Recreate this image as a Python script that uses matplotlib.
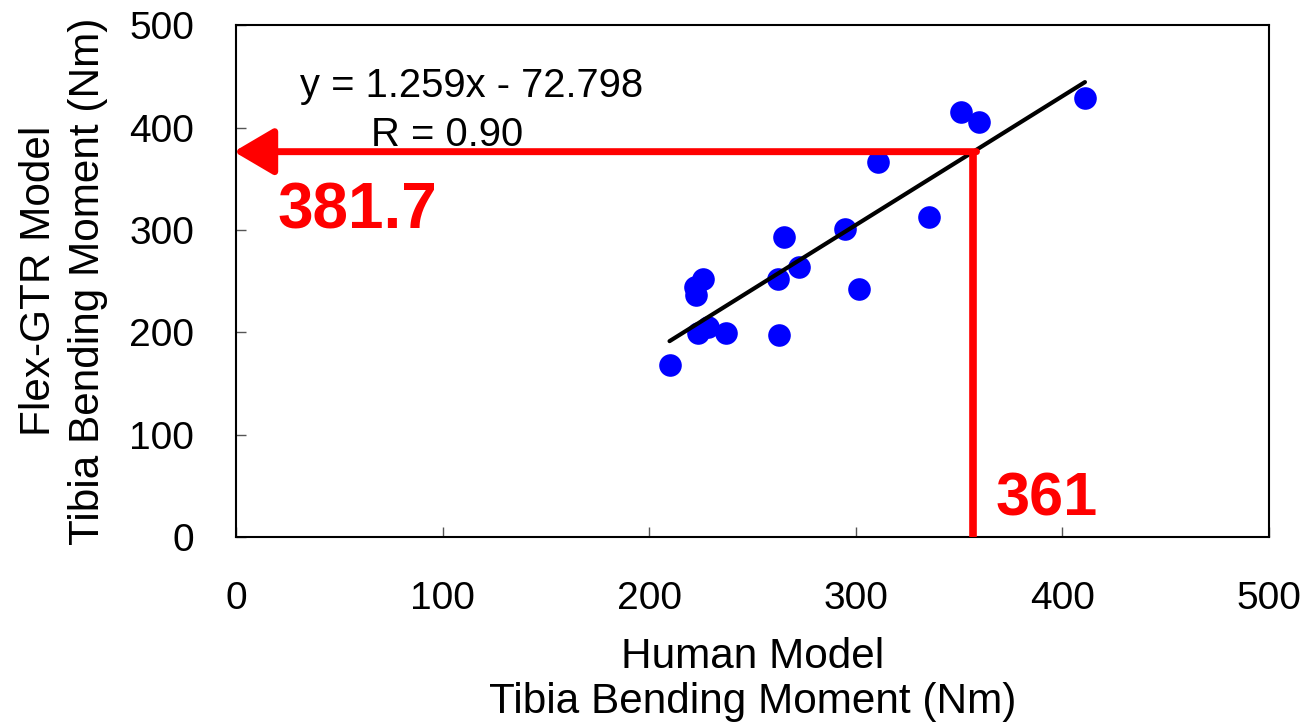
import numpy as np
import matplotlib
matplotlib.use("Agg")
import matplotlib.pyplot as plt

plt.rcParams['font.family'] = ['Liberation Sans', 'DejaVu Sans']

# datos
human = [209.9, 222.0, 222.5, 226.0, 223.6, 228.4, 237.0, 263.1, 262.3,
         265.1, 272.8, 295.0, 301.8, 310.7, 335.7, 351.0, 359.9, 411.0]
flex = [168.1, 244.1, 236.6, 251.9, 199.7, 205.6, 199.7, 197.5, 251.9,
        293.0, 263.6, 300.8, 242.4, 366.9, 312.5, 415.7, 406.0, 429.0]

slope = 1.259
intercept = -72.798
r_value = 0.90
x_mark = 357          # donde se dibujan las lineas rojas
label_x = "361"
label_y = "381.7"

ticks = [0, 100, 200, 300, 400, 500]

fig = plt.figure(figsize=(13, 7.26), dpi=100)
ax = fig.add_axes([0.1815, 0.2603, 0.7945, 0.7046])

ax.scatter(human, flex, s=265, color='#0000ff', zorder=3, linewidths=0)

xf = np.array([min(human), max(human)])
ax.plot(xf, slope * xf + intercept, color='black', lw=3, zorder=4,
        solid_capstyle='round')

# lineas rojas
y_mark = slope * x_mark + intercept
ax.plot([x_mark, x_mark], [0, y_mark], color='red', lw=5.5,
        solid_capstyle='butt', zorder=5, clip_on=False)
ax.annotate('', xy=(-1, y_mark), xytext=(x_mark + 1.5, y_mark),
            arrowprops=dict(arrowstyle='-|>,head_length=0.34,head_width=0.2',
                            mutation_scale=72, color='red', lw=5,
                            shrinkA=0, shrinkB=0),
            zorder=5, annotation_clip=False)

ax.text(31, 430, "y = %.3fx - %.3f" % (slope, -intercept), fontsize=28.8,
        ha='left', va='baseline')
ax.text(65.6, 382.5, "R = %.2f" % r_value, fontsize=28.8,
        ha='left', va='baseline')
ax.text(20.3, 301.4, label_y, fontsize=46, fontweight='bold', color='red',
        ha='left', va='baseline')
ax.text(367.9, 20.8, label_x, fontsize=44, fontweight='bold', color='red',
        ha='left', va='baseline')

ax.set_xlim(0, 500)
ax.set_ylim(0, 500)
ax.set_xticks(ticks)
ax.set_yticks(ticks)
ax.tick_params(direction='in', length=7, width=1, color='#555555',
               labelsize=28)
ax.tick_params(axis='x', pad=32)
ax.tick_params(axis='y', pad=30)
for s in ax.spines.values():
    s.set_linewidth(1.5)

ax.set_xlabel("Human Model\nTibia Bending Moment (Nm)", fontsize=30.4,
              linespacing=1.17, labelpad=14)
ax.set_ylabel("Flex-GTR Model\nTibia Bending Moment (Nm)", fontsize=30.4,
              linespacing=1.32, labelpad=15)

fig.savefig("out.png", dpi=100)
